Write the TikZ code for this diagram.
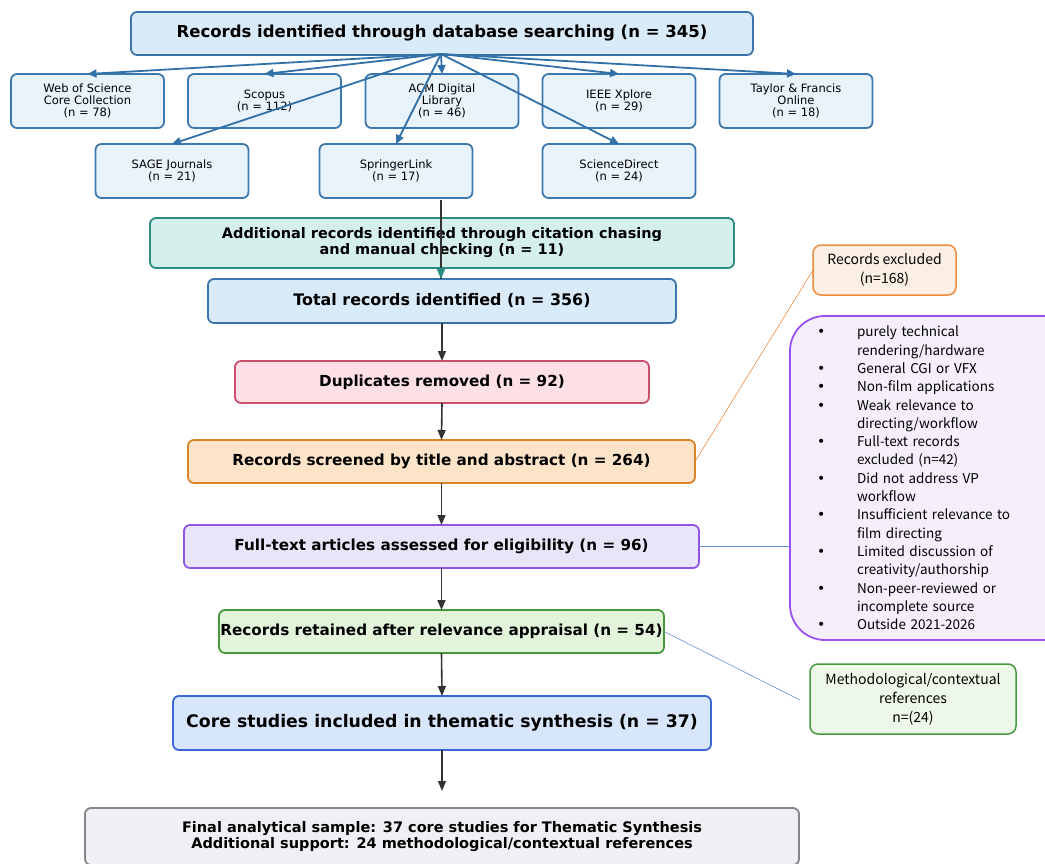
\documentclass[tikz,border=0pt]{standalone}
\usepackage{fontspec}
\setmainfont{DejaVu Sans}
\newfontfamily\cjkf{Noto Sans CJK SC}
\newfontfamily\bulf{DejaVu Sans}
\usetikzlibrary{arrows.meta}
\definecolor{topfill}{HTML}{D9EAF8}\definecolor{topdraw}{HTML}{3A76AD}
\definecolor{dbfill}{HTML}{E9F3FB}\definecolor{dbdraw}{HTML}{3A78AE}
\definecolor{addfill}{HTML}{D5EFED}\definecolor{adddraw}{HTML}{2A8C82}
\definecolor{dupfill}{HTML}{FDE0E6}\definecolor{dupdraw}{HTML}{C8506A}
\definecolor{scrfill}{HTML}{FDE4C8}\definecolor{scrdraw}{HTML}{DA8427}
\definecolor{ftfill}{HTML}{EAE4F9}\definecolor{ftdraw}{HTML}{8D55E6}
\definecolor{retfill}{HTML}{E2F5DB}\definecolor{retdraw}{HTML}{47983A}
\definecolor{corefill}{HTML}{D8E6FB}\definecolor{coredraw}{HTML}{3A67D6}
\definecolor{finfill}{HTML}{EFEFF4}\definecolor{findraw}{HTML}{85858C}
\definecolor{excfill}{HTML}{FBEEE3}\definecolor{excdraw}{HTML}{EE8B3C}
\definecolor{purfill}{HTML}{F4EFFB}\definecolor{purdraw}{HTML}{9C50F0}
\definecolor{metfill}{HTML}{EEF8E9}\definecolor{metdraw}{HTML}{449A3D}
\definecolor{arrowdark}{HTML}{333333}
\definecolor{fanblue}{HTML}{3271A8}
\definecolor{thinblue}{HTML}{6A8FD8}
\newcommand{\bl}{\makebox[40pt][l]{\bulf\fontsize{14}{14}\selectfont•}}
\newcommand{\ct}{\hspace*{40pt}}
\tikzset{
  box/.style={draw, line width=1.8pt, rounded corners=6pt, inner sep=0pt, outer sep=0pt, align=center},
  dbbox/.style={box, fill=dbfill, draw=dbdraw, minimum width=153pt, minimum height=54pt, font=\fontsize{11.5}{12}\selectfont},
  mainbox/.style={box, font=\bfseries\fontsize{15.2}{17}\selectfont},
  sidebox/.style={box, line width=1.5pt, rounded corners=8pt, font=\cjkf\fontsize{14}{19}\selectfont},
  fan/.style={draw=fanblue, line width=1.8pt, -{Triangle[length=9pt,width=8pt]}},
  flow/.style={draw=arrowdark, line width=1.6pt, -{Triangle[length=10pt,width=8pt]}},
  thin/.style={line width=0.6pt}
}
\begin{document}
\begin{tikzpicture}[x=1pt,y=-1pt]
\clip (0,0) rectangle (1045,863);
\fill[white] (0,0) rectangle (1045,863);
% top
\node[mainbox, fill=topfill, draw=topdraw, minimum width=622pt, minimum height=43pt, font=\bfseries\fontsize{16.5}{19}\selectfont] (top) at (442,33.5) {Records identified through database searching (n = 345)};
% databases
\node[dbbox] (wos) at (87.5,101) {Web of Science\\Core Collection\\(n = 78)};
\node[dbbox] (scopus) at (264.5,101) {Scopus\\(n = 112)};
\node[dbbox] (acm) at (442,101) {ACM Digital\\Library\\(n = 46)};
\node[dbbox] (ieee) at (619,101) {IEEE Xplore\\(n = 29)};
\node[dbbox] (tf) at (796,101) {Taylor \& Francis\\Online\\(n = 18)};
\node[dbbox] (sage) at (172,171) {SAGE Journals\\(n = 21)};
\node[dbbox] (spr) at (396,171) {SpringerLink\\(n = 17)};
\node[dbbox] (sd) at (619,171) {ScienceDirect\\(n = 24)};
\coordinate (fanorig) at (441,54);
\foreach \t in {wos,scopus,acm,ieee,tf,sage,spr,sd}{
  \draw[fan] (fanorig) -- (\t.north);
}
% additional and total
\node[mainbox, fill=addfill, draw=adddraw, minimum width=584pt, minimum height=50pt, font=\bfseries\fontsize{14.5}{16}\selectfont] (add) at (442,243) {Additional records identified through citation chasing\\and manual checking (n = 11)};
\node[mainbox, fill=topfill, draw=topdraw, minimum width=468pt, minimum height=44pt, font=\bfseries\fontsize{15.9}{18}\selectfont] (total) at (442,301) {Total records identified (n = 356)};
\coordinate (dbend) at (441,200);
\draw[draw=arrowdark, line width=1.6pt] (dbend) -- (441,279);
\draw[draw=adddraw, line width=1.6pt, -{Triangle[length=10pt,width=8pt]}] (add.south -| dbend) -- (total.north -| dbend);
% main flow
\node[mainbox, fill=dupfill, draw=dupdraw, minimum width=414pt, minimum height=42pt] (dup) at (442,382) {Duplicates removed (n = 92)};
\node[mainbox, fill=scrfill, draw=scrdraw, minimum width=507pt, minimum height=43pt] (scr) at (441.5,461.5) {Records screened by title and abstract (n = 264)};
\node[mainbox, fill=ftfill, draw=ftdraw, minimum width=515pt, minimum height=43pt] (ft) at (441.5,546.5) {Full-text articles assessed for eligibility (n = 96)};
\node[mainbox, fill=retfill, draw=retdraw, minimum width=445pt, minimum height=43pt] (ret) at (441.5,631.5) {Records retained after relevance appraisal (n = 54)};
\node[mainbox, fill=corefill, draw=coredraw, minimum width=538pt, minimum height=54pt, font=\bfseries\fontsize{17.3}{20}\selectfont] (core) at (442,723) {Core studies included in thematic synthesis (n = 37)};
\node[mainbox, fill=finfill, draw=findraw, minimum width=714pt, minimum height=57pt, font=\bfseries\fontsize{14.5}{15.5}\selectfont] (fin) at (442,836.5) {Final analytical sample: 37 core studies for Thematic Synthesis\\Additional support: 24 methodological/contextual references};
\coordinate (finarr) at (442,791);
\draw[flow] (total.south) -- (dup.north);
\draw[flow] (dup.south) -- (scr.north);
\draw[flow] (scr.south) -- (ft.north);
\draw[flow] (ft.south) -- (ret.north);
\draw[flow] (ret.south) -- (core.north);
\draw[flow] (core.south) -- (finarr);
% right side
\node[sidebox, fill=excfill, draw=excdraw, minimum width=143pt, minimum height=50pt] (exc) at (884.5,270) {Records excluded\\(n=168)};
\node[sidebox, fill=purfill, draw=purdraw, line width=1.8pt, rounded corners=35pt, minimum width=290pt, minimum height=324pt, text width=236pt, inner xsep=27pt, align=left, font=\cjkf\fontsize{13.5}{18.3}\selectfont] (pur) at (935,478) {%
\bl purely technical\\
\ct rendering/hardware\\
\bl General CGI or VFX\\
\bl Non-film applications\\
\bl Weak relevance to\\
\ct directing/workflow\\
\bl Full-text records\\
\ct excluded (n=42)\\
\bl Did not address VP\\
\ct workflow\\
\bl Insufficient relevance to\\
\ct film directing\\
\bl Limited discussion of\\
\ct creativity/authorship\\
\bl Non-peer-reviewed or\\
\ct incomplete source\\
\bl Outside 2021-2026};
\node[sidebox, fill=metfill, draw=metdraw, minimum width=206pt, minimum height=70pt] (met) at (913,699) {Methodological/contextual\\references\\n=(24)};
\coordinate (metend) at (800,700);
\draw[thin, draw=excdraw] (scr.east) -- (exc.west);
\draw[thin, draw=thinblue] (ft.east) -- (pur.west |- ft.east);
\draw[thin, draw=thinblue] (ret.east) -- (metend);
\end{tikzpicture}
\end{document}
